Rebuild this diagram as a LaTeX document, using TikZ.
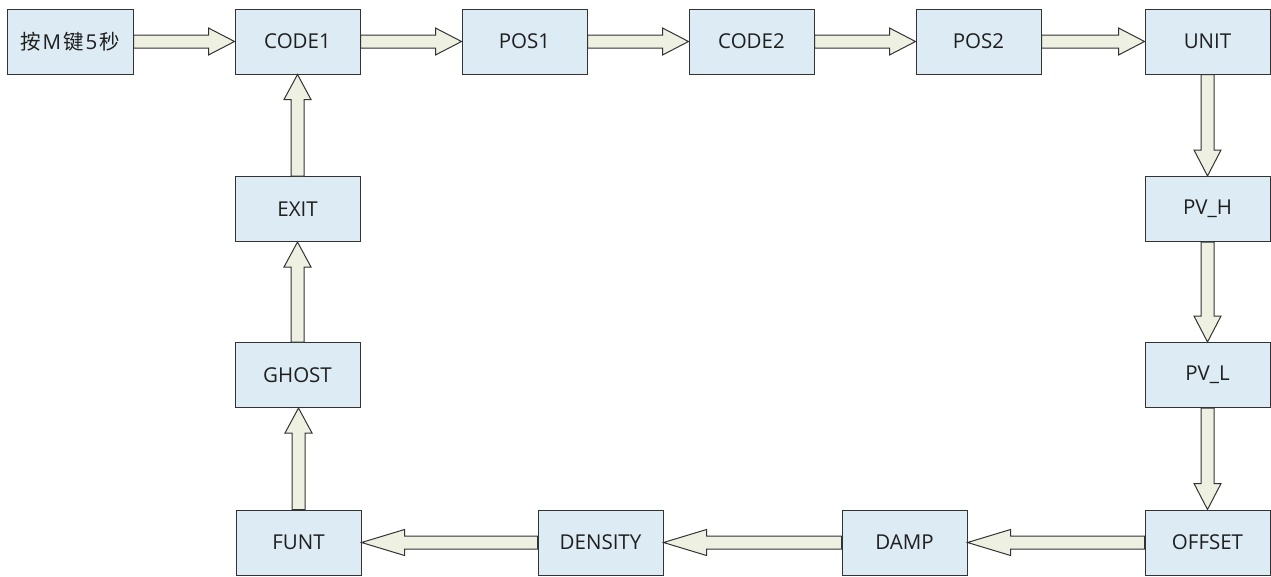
\documentclass[tikz,border=0pt]{standalone}
\usepackage{fontspec}
\setmainfont{Open Sans}
\newfontfamily\cjk{Noto Sans CJK SC}
\usetikzlibrary{calc}
\definecolor{boxfill}{HTML}{DCEBF4}
\definecolor{arrfill}{HTML}{EEF0E2}
\definecolor{edge}{HTML}{333333}
\tikzset{
  box/.style={draw=edge, line width=1pt, fill=boxfill, minimum width=125pt, minimum height=65pt, inner sep=0pt, font=\fontsize{20.5}{24}\selectfont, text=black!88},
  arr/.style={draw=edge, line width=1pt, fill=arrfill, line join=miter}
}
\newcommand\arrR[2]{\draw[arr] let \p1=(#1.east), \p2=(#2.west) in
  (\x1,\y1+6.5pt) -- (\x2-26pt,\y1+6.5pt) -- (\x2-26pt,\y1+13.5pt) -- (\x2,\y1) -- (\x2-26pt,\y1-13.5pt) -- (\x2-26pt,\y1-6.5pt) -- (\x1,\y1-6.5pt) -- cycle;}
\newcommand\arrL[2]{\draw[arr] let \p1=(#1.west), \p2=(#2.east) in
  (\x1,\y1+6.5pt) -- (\x2+43pt,\y1+6.5pt) -- (\x2+43pt,\y1+13pt) -- (\x2,\y1) -- (\x2+43pt,\y1-13pt) -- (\x2+43pt,\y1-6.5pt) -- (\x1,\y1-6.5pt) -- cycle;}
\newcommand\arrD[2]{\draw[arr] let \p1=(#1.south), \p2=(#2.north) in
  (\x1+6.5pt,\y1) -- (\x1+6.5pt,\y2+26pt) -- (\x1+13.5pt,\y2+26pt) -- (\x1,\y2) -- (\x1-13.5pt,\y2+26pt) -- (\x1-6.5pt,\y2+26pt) -- (\x1-6.5pt,\y1) -- cycle;}
\newcommand\arrU[2]{\draw[arr] let \p1=(#1.north), \p2=(#2.south) in
  (\x1+6.5pt,\y1) -- (\x1+6.5pt,\y2-25pt) -- (\x1+13.5pt,\y2-25pt) -- (\x1,\y2) -- (\x1-13.5pt,\y2-25pt) -- (\x1-6.5pt,\y2-25pt) -- (\x1-6.5pt,\y1) -- cycle;}
\begin{document}
\begin{tikzpicture}[x=1pt,y=1pt]
\useasboundingbox (0,0) rectangle (1271,-576);
\node[box, minimum width=126pt] (start) at (70,-41.5) {{\cjk 按}\hspace{2pt}M\hspace{2pt}{\cjk 键}\hspace{2pt}5\hspace{2pt}{\cjk 秒}};
\node[box] (code1) at (297.5,-41.5) {CODE1};
\node[box] (pos1) at (524.5,-41.5) {POS1};
\node[box] (code2) at (751.5,-41.5) {CODE2};
\node[box] (pos2) at (978.5,-41.5) {POS2};
\node[box] (unit) at (1207.5,-41.5) {UNIT};
\node[box] (pvh) at (1207.5,-209) {PV\_H};
\node[box] (pvl) at (1207.5,-375) {PV\_L};
\node[box] (offset) at (1207.5,-542.5) {OFFSET};
\node[box] (damp) at (904.5,-542.5) {DAMP};
\node[box] (density) at (600.5,-542.5) {DENSITY};
\node[box] (funt) at (298.5,-542.5) {FUNT};
\node[box] (ghost) at (297.5,-375) {GHOST};
\node[box] (exit) at (297.5,-209) {EXIT};
\arrR{start}{code1}
\arrR{code1}{pos1}
\arrR{pos1}{code2}
\arrR{code2}{pos2}
\arrR{pos2}{unit}
\arrD{unit}{pvh}
\arrD{pvh}{pvl}
\arrD{pvl}{offset}
\arrL{offset}{damp}
\arrL{damp}{density}
\arrL{density}{funt}
\arrU{funt}{ghost}
\arrU{ghost}{exit}
\arrU{exit}{code1}
\end{tikzpicture}
\end{document}
